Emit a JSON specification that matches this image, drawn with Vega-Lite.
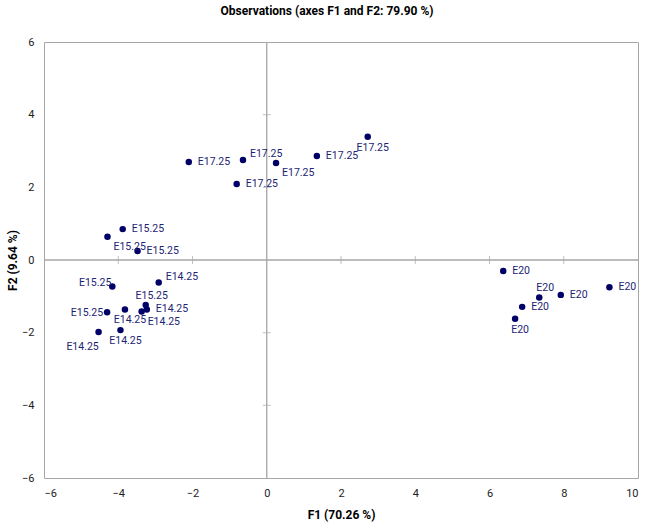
{
  "$schema": "https://vega.github.io/schema/vega-lite/v6.json",
  "width": 594,
  "height": 436,
  "autosize": {"type": "none"},
  "padding": {"left": 44, "top": 42, "right": 10, "bottom": 49},
  "title": {"text": "Observations (axes F1 and F2: 79.90 %)", "fontSize": 12, "fontWeight": "bold", "font": "Roboto", "color": "#000000", "anchor": "middle", "offset": 18, "dx": -14},
  "config": {
    "view": {"stroke": "#a6a6a6", "strokeWidth": 1},
    "axis": {"labelFont": "Roboto", "labelFontSize": 11, "labelColor": "#222222", "titleFont": "Roboto", "titleFontSize": 12, "titleFontWeight": "bold", "titleColor": "#000000", "grid": false, "ticks": false, "domain": false}
  },
  "datasets": {
    "obs": [
      {"name": "E17.25", "f1": -2.10, "f2": 2.70, "lab": "r"},
      {"name": "E17.25", "f1": -0.64, "f2": 2.75, "lab": "ar"},
      {"name": "E17.25", "f1": 0.25, "f2": 2.67, "lab": "br"},
      {"name": "E17.25", "f1": 1.35, "f2": 2.86, "lab": "r"},
      {"name": "E17.25", "f1": 2.72, "f2": 3.39, "lab": "b"},
      {"name": "E17.25", "f1": -0.81, "f2": 2.09, "lab": "r"},
      {"name": "E15.25", "f1": -3.88, "f2": 0.85, "lab": "r"},
      {"name": "E15.25", "f1": -4.29, "f2": 0.64, "lab": "br"},
      {"name": "E15.25", "f1": -3.48, "f2": 0.25, "lab": "r"},
      {"name": "E15.25", "f1": -4.16, "f2": -0.73, "lab": "al"},
      {"name": "E14.25", "f1": -2.91, "f2": -0.62, "lab": "ar"},
      {"name": "E15.25", "f1": -3.26, "f2": -1.24, "lab": "a"},
      {"name": "E14.25", "f1": -3.23, "f2": -1.36, "lab": "r"},
      {"name": "E14.25", "f1": -3.37, "f2": -1.42, "lab": "br"},
      {"name": "E15.25", "f1": -4.30, "f2": -1.44, "lab": "l"},
      {"name": "E14.25", "f1": -3.82, "f2": -1.36, "lab": "b"},
      {"name": "E14.25", "f1": -4.53, "f2": -1.98, "lab": "bl"},
      {"name": "E14.25", "f1": -3.94, "f2": -1.93, "lab": "b"},
      {"name": "E20", "f1": 6.37, "f2": -0.30, "lab": "r"},
      {"name": "E20", "f1": 7.34, "f2": -1.03, "lab": "a"},
      {"name": "E20", "f1": 7.92, "f2": -0.96, "lab": "r"},
      {"name": "E20", "f1": 9.23, "f2": -0.75, "lab": "r"},
      {"name": "E20", "f1": 6.88, "f2": -1.29, "lab": "r"},
      {"name": "E20", "f1": 6.69, "f2": -1.62, "lab": "b"}
    ],
    "xticks": [{"v": -4}, {"v": -2}, {"v": 2}, {"v": 4}, {"v": 6}, {"v": 8}],
    "yticks": [{"v": -4}, {"v": -2}, {"v": 2}, {"v": 4}]
  },
  "encoding": {
    "x": {"type": "quantitative", "scale": {"domain": [-6, 10], "nice": false, "zero": false}, "axis": {"values": [-6, -4, -2, 0, 2, 4, 6, 8, 10], "title": "F1 (70.26 %)", "labelPadding": 9, "titlePadding": 11}},
    "y": {"type": "quantitative", "scale": {"domain": [-6, 6], "nice": false, "zero": false}, "axis": {"values": [-6, -4, -2, 0, 2, 4, 6], "title": "F2 (9.64 %)", "labelPadding": 10, "titlePadding": 2}}
  },
  "layer": [
    {"data": {"values": [{"v": 0}]}, "mark": {"type": "rule", "color": "#a6a6a6", "strokeWidth": 1.3}, "encoding": {"x": {"field": "v", "type": "quantitative"}}},
    {"data": {"values": [{"v": 0}]}, "mark": {"type": "rule", "color": "#a6a6a6", "strokeWidth": 1.3}, "encoding": {"y": {"field": "v", "type": "quantitative"}}},
    {"data": {"name": "xticks"}, "mark": {"type": "tick", "orient": "vertical", "color": "#a6a6a6", "size": 8, "thickness": 1}, "encoding": {"x": {"field": "v", "type": "quantitative"}, "y": {"datum": 0, "type": "quantitative"}}},
    {"data": {"name": "yticks"}, "mark": {"type": "tick", "orient": "horizontal", "color": "#a6a6a6", "size": 8, "thickness": 1}, "encoding": {"y": {"field": "v", "type": "quantitative"}, "x": {"datum": 0, "type": "quantitative"}}},
    {"data": {"name": "obs"}, "mark": {"type": "circle", "color": "#000066", "opacity": 1, "size": 42}, "encoding": {"x": {"field": "f1", "type": "quantitative"}, "y": {"field": "f2", "type": "quantitative"}}},
    {"data": {"name": "obs"}, "transform": [{"filter": "datum.lab === 'r'"}], "mark": {"type": "text", "font": "Roboto", "fontSize": 10.5, "color": "#1c2475", "align": "left", "baseline": "middle", "dx": 9, "dy": 0}, "encoding": {"x": {"field": "f1", "type": "quantitative"}, "y": {"field": "f2", "type": "quantitative"}, "text": {"field": "name"}}},
    {"data": {"name": "obs"}, "transform": [{"filter": "datum.lab === 'ar'"}], "mark": {"type": "text", "font": "Roboto", "fontSize": 10.5, "color": "#1c2475", "align": "left", "baseline": "middle", "dx": 7, "dy": -6}, "encoding": {"x": {"field": "f1", "type": "quantitative"}, "y": {"field": "f2", "type": "quantitative"}, "text": {"field": "name"}}},
    {"data": {"name": "obs"}, "transform": [{"filter": "datum.lab === 'br'"}], "mark": {"type": "text", "font": "Roboto", "fontSize": 10.5, "color": "#1c2475", "align": "left", "baseline": "middle", "dx": 6, "dy": 10.5}, "encoding": {"x": {"field": "f1", "type": "quantitative"}, "y": {"field": "f2", "type": "quantitative"}, "text": {"field": "name"}}},
    {"data": {"name": "obs"}, "transform": [{"filter": "datum.lab === 'b'"}], "mark": {"type": "text", "font": "Roboto", "fontSize": 10.5, "color": "#1c2475", "align": "center", "baseline": "middle", "dx": 5, "dy": 11}, "encoding": {"x": {"field": "f1", "type": "quantitative"}, "y": {"field": "f2", "type": "quantitative"}, "text": {"field": "name"}}},
    {"data": {"name": "obs"}, "transform": [{"filter": "datum.lab === 'bl'"}], "mark": {"type": "text", "font": "Roboto", "fontSize": 10.5, "color": "#1c2475", "align": "center", "baseline": "middle", "dx": -16, "dy": 15}, "encoding": {"x": {"field": "f1", "type": "quantitative"}, "y": {"field": "f2", "type": "quantitative"}, "text": {"field": "name"}}},
    {"data": {"name": "obs"}, "transform": [{"filter": "datum.lab === 'a'"}], "mark": {"type": "text", "font": "Roboto", "fontSize": 10.5, "color": "#1c2475", "align": "center", "baseline": "middle", "dx": 6, "dy": -9}, "encoding": {"x": {"field": "f1", "type": "quantitative"}, "y": {"field": "f2", "type": "quantitative"}, "text": {"field": "name"}}},
    {"data": {"name": "obs"}, "transform": [{"filter": "datum.lab === 'l'"}], "mark": {"type": "text", "font": "Roboto", "fontSize": 10.5, "color": "#1c2475", "align": "right", "baseline": "middle", "dx": -4, "dy": 1}, "encoding": {"x": {"field": "f1", "type": "quantitative"}, "y": {"field": "f2", "type": "quantitative"}, "text": {"field": "name"}}},
    {"data": {"name": "obs"}, "transform": [{"filter": "datum.lab === 'al'"}], "mark": {"type": "text", "font": "Roboto", "fontSize": 10.5, "color": "#1c2475", "align": "right", "baseline": "middle", "dx": -1, "dy": -4}, "encoding": {"x": {"field": "f1", "type": "quantitative"}, "y": {"field": "f2", "type": "quantitative"}, "text": {"field": "name"}}}
  ]
}
